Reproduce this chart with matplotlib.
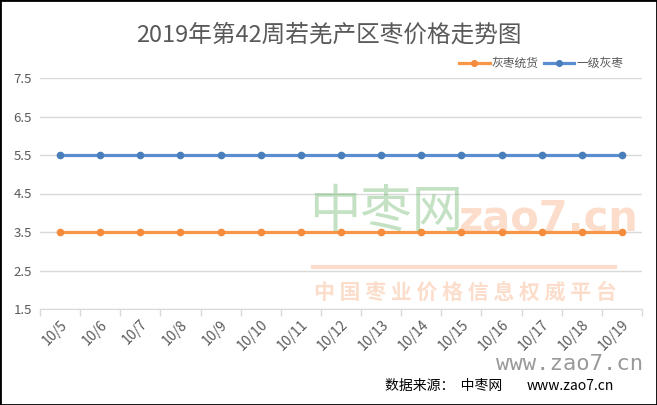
import matplotlib.pyplot as plt
from matplotlib.lines import Line2D
from matplotlib.patches import Rectangle

plt.rcParams['font.family'] = ['Noto Sans CJK SC', 'DejaVu Sans']

dates = ['10/5', '10/6', '10/7', '10/8', '10/9', '10/10', '10/11', '10/12',
         '10/13', '10/14', '10/15', '10/16', '10/17', '10/18', '10/19']
huizao_tonghuo = [3.5] * 15
yiji_huizao = [5.5] * 15
y_ticks = [1.5, 2.5, 3.5, 4.5, 5.5, 6.5, 7.5]

text_color = '#595959'
orange = '#F79646'
blue = '#5B8DD3'

fig = plt.figure(figsize=(6.57, 4.05), dpi=100)
ax = fig.add_axes([40 / 657, 1 - 309 / 405, 602 / 657, 231 / 405])

x = list(range(len(dates)))
ax.plot(x, huizao_tonghuo, color=orange, lw=2.3, marker='o', ms=4.5,
        mfc='#F58B3C', mec='#F58B3C', label='灰枣统货', zorder=3)
ax.plot(x, yiji_huizao, color=blue, lw=2.3, marker='o', ms=4.5,
        mfc='#4A7EBB', mec='#4A7EBB', label='一级灰枣', zorder=3)

ax.set_xlim(-0.5, len(dates) - 0.5)
ax.set_ylim(1.5, 7.5)
ax.set_yticks(y_ticks)
ax.set_yticklabels([f'{v:.1f}' for v in y_ticks], color=text_color, fontsize=9.5)
ax.yaxis.grid(True, color='#D9D9D9', lw=1)
ax.set_axisbelow(True)
ax.tick_params(axis='y', length=0, pad=6)

ax.set_xticks(x)
ax.set_xticklabels(dates, rotation=45, ha='right', rotation_mode='anchor',
                   color=text_color, fontsize=10)
ax.tick_params(axis='x', length=0, pad=6)
ax.set_xticks([i - 0.5 for i in range(len(dates) + 1)], minor=True)
ax.tick_params(axis='x', which='minor', length=5, color='#D9D9D9', width=1)

for side in ['top', 'right', 'left']:
    ax.spines[side].set_visible(False)
ax.spines['bottom'].set_color('#D9D9D9')

# watermark
fig.text(386 / 657, 1 - 212 / 405, '中枣网', fontsize=37, color='#4CA64C', alpha=0.33,
         ha='center', va='center')
fig.text(548 / 657, 1 - 218 / 405, 'zao7.cn', fontsize=30, color='#F7A06A', alpha=0.35,
         ha='center', va='center', fontweight='bold', family='DejaVu Sans')
fig.add_artist(Line2D([313 / 657, 615 / 657], [1 - 267 / 405, 1 - 267 / 405],
                      color='#F7A06A', alpha=0.35, lw=3))
fig.text(465 / 657, 1 - 292 / 405, '中 国 枣 业 价 格 信 息 权 威 平 台', fontsize=15,
         color='#F7A06A', alpha=0.35, ha='center', va='center', fontweight='bold')

ax.legend(loc='lower right', bbox_to_anchor=(1 - 10 / 602, 1.0), ncol=2, frameon=False,
          fontsize=8.5, handlelength=2.6, columnspacing=0.4, handletextpad=0.2,
          borderaxespad=0.3, labelcolor=text_color, markerscale=0.9)

fig.text(0.5, 1 - 35 / 405, '2019年第42周若羌产区枣价格走势图', ha='center', va='center',
         fontsize=17, color=text_color)

fig.text(570 / 657, 1 - 364 / 405, 'www.zao7.cn', fontsize=16, color='#808080',
         ha='center', va='center', family='DejaVu Sans Mono', alpha=0.8)
fig.text(385 / 657, 1 - 386 / 405, '数据来源：  中枣网 ', fontsize=10, color='black',
         ha='left', va='center')
fig.text(614 / 657, 1 - 386 / 405, 'www.zao7.cn', fontsize=10, color='black',
         ha='right', va='center')

fig.add_artist(Rectangle((0, 0), 1, 1, transform=fig.transFigure, fill=False,
                         ec='black', lw=2))

fig.savefig('out.png', dpi=100)
